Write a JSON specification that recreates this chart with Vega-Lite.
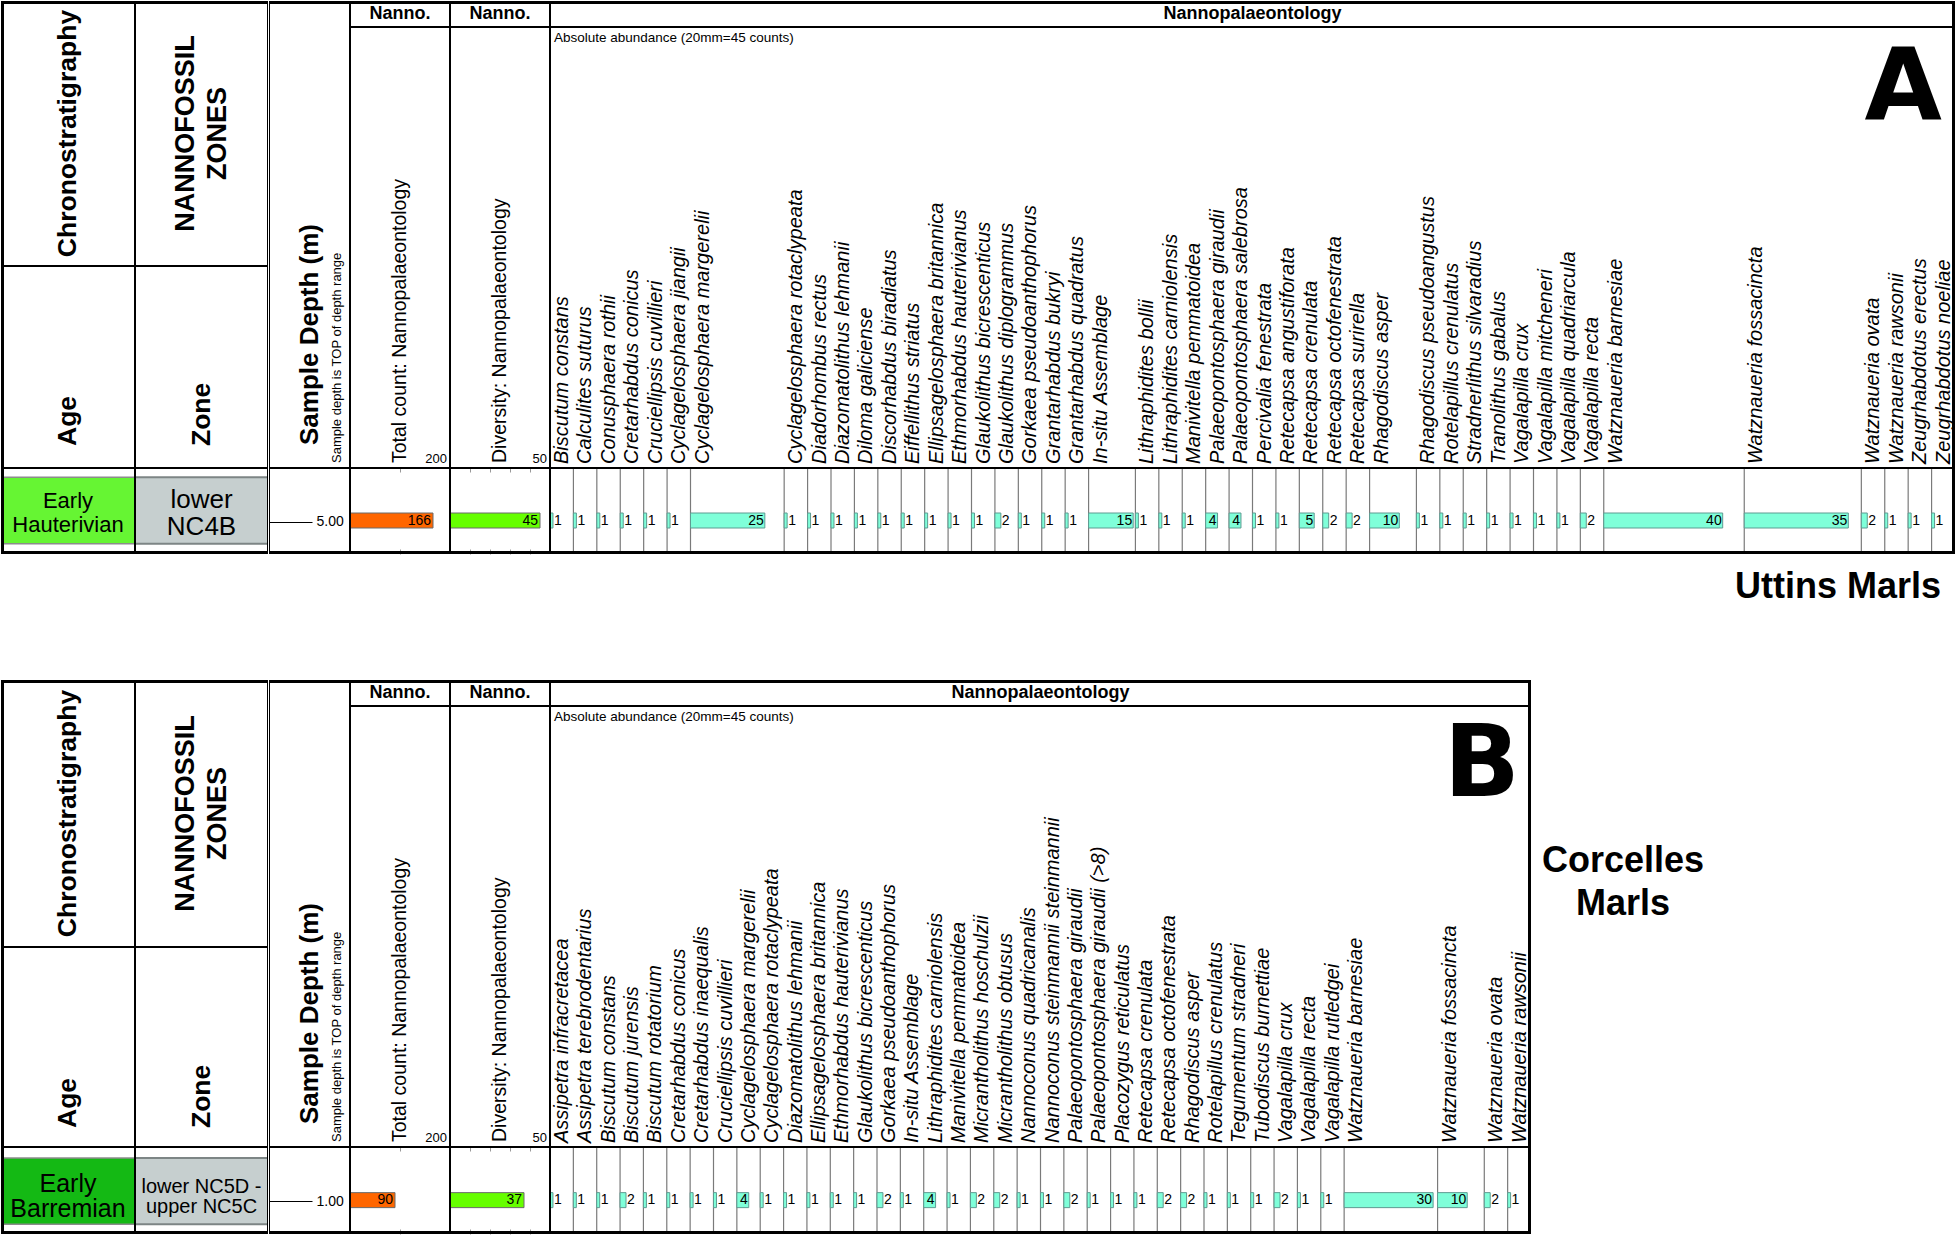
{
  "$schema": "https://vega.github.io/schema/vega-lite/v6.json",
  "background": "white",
  "padding": {"left": 1, "top": 1, "right": 3, "bottom": 3},
  "config": {
    "font": "Liberation Sans",
    "view": {"stroke": null},
    "axis": {"grid": false, "domain": false}
  },
  "datasets": {
    "one": [{}],
    "sumA": [{"depth": 5, "total": 166, "diversity": 45, "age": "Early\nHauterivian", "zone": "lower\nNC4B", "top": 4.17, "base": 5.41}],
    "sumB": [{"depth": 1, "total": 90, "diversity": 37, "age": "Early\nBarremian", "zone": "lower NC5D -\nupper NC5C", "top": 0.2, "base": 1.42}],
    "spA": [
      {"depth": 5, "species": "Biscutum constans", "count": 1},
      {"depth": 5, "species": "Calculites suturus", "count": 1},
      {"depth": 5, "species": "Conusphaera rothii", "count": 1},
      {"depth": 5, "species": "Cretarhabdus conicus", "count": 1},
      {"depth": 5, "species": "Cruciellipsis cuvillieri", "count": 1},
      {"depth": 5, "species": "Cyclagelosphaera jiangii", "count": 1},
      {"depth": 5, "species": "Cyclagelosphaera margerelii", "count": 25},
      {"depth": 5, "species": "Cyclagelosphaera rotaclypeata", "count": 1},
      {"depth": 5, "species": "Diadorhombus rectus", "count": 1},
      {"depth": 5, "species": "Diazomatolithus lehmanii", "count": 1},
      {"depth": 5, "species": "Diloma galiciense", "count": 1},
      {"depth": 5, "species": "Discorhabdus biradiatus", "count": 1},
      {"depth": 5, "species": "Eiffellithus striatus", "count": 1},
      {"depth": 5, "species": "Ellipsagelosphaera britannica", "count": 1},
      {"depth": 5, "species": "Ethmorhabdus hauterivianus", "count": 1},
      {"depth": 5, "species": "Glaukolithus bicrescenticus", "count": 1},
      {"depth": 5, "species": "Glaukolithus diplogrammus", "count": 2},
      {"depth": 5, "species": "Gorkaea pseudoanthophorus", "count": 1},
      {"depth": 5, "species": "Grantarhabdus bukryi", "count": 1},
      {"depth": 5, "species": "Grantarhabdus quadratus", "count": 1},
      {"depth": 5, "species": "In-situ Assemblage", "count": 15},
      {"depth": 5, "species": "Lithraphidites bollii", "count": 1},
      {"depth": 5, "species": "Lithraphidites carniolensis", "count": 1},
      {"depth": 5, "species": "Manivitella pemmatoidea", "count": 1},
      {"depth": 5, "species": "Palaeopontosphaera giraudii", "count": 4},
      {"depth": 5, "species": "Palaeopontosphaera salebrosa", "count": 4},
      {"depth": 5, "species": "Percivalia fenestrata", "count": 1},
      {"depth": 5, "species": "Retecapsa angustiforata", "count": 1},
      {"depth": 5, "species": "Retecapsa crenulata", "count": 5},
      {"depth": 5, "species": "Retecapsa octofenestrata", "count": 2},
      {"depth": 5, "species": "Retecapsa surirella", "count": 2},
      {"depth": 5, "species": "Rhagodiscus asper", "count": 10},
      {"depth": 5, "species": "Rhagodiscus pseudoangustus", "count": 1},
      {"depth": 5, "species": "Rotelapillus crenulatus", "count": 1},
      {"depth": 5, "species": "Stradnerlithus silvaradius", "count": 1},
      {"depth": 5, "species": "Tranolithus gabalus", "count": 1},
      {"depth": 5, "species": "Vagalapilla crux", "count": 1},
      {"depth": 5, "species": "Vagalapilla mitcheneri", "count": 1},
      {"depth": 5, "species": "Vagalapilla quadriarcula", "count": 1},
      {"depth": 5, "species": "Vagalapilla recta", "count": 2},
      {"depth": 5, "species": "Watznaueria barnesiae", "count": 40},
      {"depth": 5, "species": "Watznaueria fossacincta", "count": 35},
      {"depth": 5, "species": "Watznaueria ovata", "count": 2},
      {"depth": 5, "species": "Watznaueria rawsonii", "count": 1},
      {"depth": 5, "species": "Zeugrhabdotus erectus", "count": 1},
      {"depth": 5, "species": "Zeugrhabdotus noeliae", "count": 1}
    ],
    "spB": [
      {"depth": 1, "species": "Assipetra infracretacea", "count": 1},
      {"depth": 1, "species": "Assipetra terebrodentarius", "count": 1},
      {"depth": 1, "species": "Biscutum constans", "count": 1},
      {"depth": 1, "species": "Biscutum jurensis", "count": 2},
      {"depth": 1, "species": "Biscutum rotatorium", "count": 1},
      {"depth": 1, "species": "Cretarhabdus conicus", "count": 1},
      {"depth": 1, "species": "Cretarhabdus inaequalis", "count": 1},
      {"depth": 1, "species": "Cruciellipsis cuvillieri", "count": 1},
      {"depth": 1, "species": "Cyclagelosphaera margerelii", "count": 4},
      {"depth": 1, "species": "Cyclagelosphaera rotaclypeata", "count": 1},
      {"depth": 1, "species": "Diazomatolithus lehmanii", "count": 1},
      {"depth": 1, "species": "Ellipsagelosphaera britannica", "count": 1},
      {"depth": 1, "species": "Ethmorhabdus hauterivianus", "count": 1},
      {"depth": 1, "species": "Glaukolithus bicrescenticus", "count": 1},
      {"depth": 1, "species": "Gorkaea pseudoanthophorus", "count": 2},
      {"depth": 1, "species": "In-situ Assemblage", "count": 1},
      {"depth": 1, "species": "Lithraphidites carniolensis", "count": 4},
      {"depth": 1, "species": "Manivitella pemmatoidea", "count": 1},
      {"depth": 1, "species": "Micrantholithus hoschulzii", "count": 2},
      {"depth": 1, "species": "Micrantholithus obtusus", "count": 2},
      {"depth": 1, "species": "Nannoconus quadricanalis", "count": 1},
      {"depth": 1, "species": "Nannoconus steinmannii steinmannii", "count": 1},
      {"depth": 1, "species": "Palaeopontosphaera giraudii", "count": 2},
      {"depth": 1, "species": "Palaeopontosphaera giraudii (>8)", "count": 1},
      {"depth": 1, "species": "Placozygus reticulatus", "count": 1},
      {"depth": 1, "species": "Retecapsa crenulata", "count": 1},
      {"depth": 1, "species": "Retecapsa octofenestrata", "count": 2},
      {"depth": 1, "species": "Rhagodiscus asper", "count": 2},
      {"depth": 1, "species": "Rotelapillus crenulatus", "count": 1},
      {"depth": 1, "species": "Tegumentum stradneri", "count": 1},
      {"depth": 1, "species": "Tubodiscus burnettiae", "count": 1},
      {"depth": 1, "species": "Vagalapilla crux", "count": 2},
      {"depth": 1, "species": "Vagalapilla recta", "count": 1},
      {"depth": 1, "species": "Vagalapilla rutledgei", "count": 1},
      {"depth": 1, "species": "Watznaueria barnesiae", "count": 30},
      {"depth": 1, "species": "Watznaueria fossacincta", "count": 10},
      {"depth": 1, "species": "Watznaueria ovata", "count": 2},
      {"depth": 1, "species": "Watznaueria rawsonii", "count": 1}
    ]
  },
  "spacing": 0,
  "bounds": "full",
  "vconcat": [
    {
      "spacing": 0,
      "bounds": "full",
      "hconcat": [
        {"spacing": 0, "bounds": "flush", "vconcat": [
          {"width": 134, "height": 265, "layer": [
            {"data": {"name": "one"}, "mark": {"type": "text", "text": "Chronostratigraphy", "angle": 270, "fontSize": 26.5, "fontWeight": "bold", "align": "center", "baseline": "middle"}, "encoding": {}},
            {"data": {"name": "one"}, "mark": {"type": "rect", "filled": false, "color": "black", "strokeWidth": 2, "clip": true}, "encoding": {}},
            {"data": {"name": "one"}, "mark": {"type": "rule", "color": "black", "strokeWidth": 6, "clip": true}, "encoding": {"y": {"value": 0}}},
            {"data": {"name": "one"}, "mark": {"type": "rule", "color": "black", "strokeWidth": 6, "clip": true}, "encoding": {"x": {"value": 0}}}
          ]},
          {"width": 134, "height": 202, "layer": [
            {"data": {"name": "one"}, "mark": {"type": "text", "text": "Age", "angle": 270, "fontSize": 26.5, "fontWeight": "bold", "align": "left", "baseline": "middle", "y": "height", "dx": 22}, "encoding": {}},
            {"data": {"name": "one"}, "mark": {"type": "rect", "filled": false, "color": "black", "strokeWidth": 2, "clip": true}, "encoding": {}},
            {"data": {"name": "one"}, "mark": {"type": "rule", "color": "black", "strokeWidth": 6, "clip": true}, "encoding": {"x": {"value": 0}}}
          ]},
          {"width": 134, "height": 86, "layer": [
            {"data": {"name": "sumA"}, "mark": {"type": "rect", "fill": "#66F533", "clip": true}, "encoding": {"y": {"field": "top", "type": "quantitative", "scale": {"domain": [4, 5.6], "reverse": true, "nice": false, "zero": false}, "axis": null}, "y2": {"field": "base"}}},
            {"data": {"name": "sumA"}, "mark": {"type": "rule", "color": "#8c8c8c", "strokeWidth": 1.5, "clip": true}, "encoding": {"y": {"field": "top", "type": "quantitative", "axis": null}}},
            {"data": {"name": "sumA"}, "mark": {"type": "rule", "color": "#8c8c8c", "strokeWidth": 1.5, "clip": true}, "encoding": {"y": {"field": "base", "type": "quantitative", "axis": null}}},
            {"data": {"name": "sumA"}, "transform": [{"calculate": "(datum.top+datum.base)/2", "as": "mid"}], "mark": {"type": "text", "fontSize": 22, "lineHeight": 23.5, "lineBreak": "\n", "align": "center", "baseline": "middle", "dy": -9}, "encoding": {"y": {"field": "mid", "type": "quantitative", "axis": null}, "text": {"field": "age", "type": "nominal"}}},
            {"data": {"name": "one"}, "mark": {"type": "rect", "filled": false, "color": "black", "strokeWidth": 2, "clip": true}, "encoding": {}},
            {"data": {"name": "one"}, "mark": {"type": "rule", "color": "black", "strokeWidth": 6, "clip": true}, "encoding": {"x": {"value": 0}}},
            {"data": {"name": "one"}, "mark": {"type": "rule", "color": "black", "strokeWidth": 6, "clip": true}, "encoding": {"y": {"value": "height"}}}
          ]}
        ]},
        {"spacing": 0, "bounds": "flush", "vconcat": [
          {"width": 133, "height": 265, "layer": [
            {"data": {"name": "one"}, "mark": {"type": "text", "text": "NANNOFOSSIL\nZONES", "lineBreak": "\n", "lineHeight": 32, "angle": 270, "fontSize": 27, "fontWeight": "bold", "align": "center", "baseline": "middle", "dy": -16}, "encoding": {}},
            {"data": {"name": "one"}, "mark": {"type": "rect", "filled": false, "color": "black", "strokeWidth": 2, "clip": true}, "encoding": {}},
            {"data": {"name": "one"}, "mark": {"type": "rule", "color": "black", "strokeWidth": 6, "clip": true}, "encoding": {"y": {"value": 0}}}
          ]},
          {"width": 133, "height": 202, "layer": [
            {"data": {"name": "one"}, "mark": {"type": "text", "text": "Zone", "angle": 270, "fontSize": 26.5, "fontWeight": "bold", "align": "left", "baseline": "middle", "y": "height", "dx": 22}, "encoding": {}},
            {"data": {"name": "one"}, "mark": {"type": "rect", "filled": false, "color": "black", "strokeWidth": 2, "clip": true}, "encoding": {}}
          ]},
          {"width": 133, "height": 86, "layer": [
            {"data": {"name": "sumA"}, "mark": {"type": "rect", "fill": "#C6CFCF", "clip": true}, "encoding": {"y": {"field": "top", "type": "quantitative", "scale": {"domain": [4, 5.6], "reverse": true, "nice": false, "zero": false}, "axis": null}, "y2": {"field": "base"}}},
            {"data": {"name": "sumA"}, "mark": {"type": "rule", "color": "#7d8585", "strokeWidth": 2, "clip": true}, "encoding": {"y": {"field": "top", "type": "quantitative", "axis": null}}},
            {"data": {"name": "sumA"}, "mark": {"type": "rule", "color": "#7d8585", "strokeWidth": 2, "clip": true}, "encoding": {"y": {"field": "base", "type": "quantitative", "axis": null}}},
            {"data": {"name": "sumA"}, "transform": [{"calculate": "(datum.top+datum.base)/2", "as": "mid"}], "mark": {"type": "text", "fontSize": 26, "lineHeight": 27, "lineBreak": "\n", "align": "center", "baseline": "middle", "dy": -10}, "encoding": {"y": {"field": "mid", "type": "quantitative", "axis": null}, "text": {"field": "zone", "type": "nominal"}}},
            {"data": {"name": "one"}, "mark": {"type": "rect", "filled": false, "color": "black", "strokeWidth": 2, "clip": true}, "encoding": {}},
            {"data": {"name": "one"}, "mark": {"type": "rule", "color": "black", "strokeWidth": 6, "clip": true}, "encoding": {"y": {"value": "height"}}}
          ]}
        ]},
        {"spacing": 0, "bounds": "flush", "vconcat": [
          {"width": 81, "height": 467, "layer": [
            {"data": {"name": "one"}, "mark": {"type": "text", "text": "Sample Depth (m)", "angle": 270, "fontSize": 26, "fontWeight": "bold", "align": "left", "baseline": "middle", "y": "height", "dx": 23}, "encoding": {}},
            {"data": {"name": "one"}, "mark": {"type": "text", "text": "Sample depth is TOP of depth range", "angle": 270, "fontSize": 13, "align": "left", "baseline": "middle", "x": 68, "y": "height", "dx": 5}, "encoding": {}},
            {"data": {"name": "one"}, "mark": {"type": "rect", "filled": false, "color": "black", "strokeWidth": 2, "clip": true}, "encoding": {}},
            {"data": {"name": "one"}, "mark": {"type": "rule", "color": "black", "strokeWidth": 6, "clip": true}, "encoding": {"y": {"value": 0}}}
          ]},
          {"width": 81, "height": 86, "layer": [
            {"data": {"name": "sumA"}, "mark": {"type": "point", "opacity": 0}, "encoding": {"y": {"field": "depth", "type": "quantitative", "scale": {"domain": [4, 5.6], "reverse": true, "nice": false, "zero": false}, "axis": {"orient": "right", "offset": -81, "values": [5], "format": ".2f", "tickSize": 43, "tickColor": "black", "tickWidth": 1, "domain": false, "grid": false, "labelFontSize": 14, "labelColor": "black", "labelPadding": 4, "title": null}}}},
            {"data": {"name": "one"}, "mark": {"type": "rect", "filled": false, "color": "black", "strokeWidth": 2, "clip": true}, "encoding": {}},
            {"data": {"name": "one"}, "mark": {"type": "rule", "color": "black", "strokeWidth": 6, "clip": true}, "encoding": {"y": {"value": "height"}}}
          ]}
        ]},
        {"spacing": 0, "bounds": "flush", "vconcat": [
          {"width": 100, "height": 26, "layer": [
            {"data": {"name": "one"}, "mark": {"type": "text", "text": "Nanno.", "fontSize": 18, "fontWeight": "bold"}, "encoding": {}},
            {"data": {"name": "one"}, "mark": {"type": "rect", "filled": false, "color": "black", "strokeWidth": 2, "clip": true}, "encoding": {}},
            {"data": {"name": "one"}, "mark": {"type": "rule", "color": "black", "strokeWidth": 6, "clip": true}, "encoding": {"y": {"value": 0}}}
          ]},
          {"width": 100, "height": 441, "layer": [
            {"data": {"name": "one"}, "mark": {"type": "text", "text": "Total count: Nannopalaeontology", "angle": 270, "fontSize": 19.5, "align": "left", "baseline": "middle", "y": "height", "dx": 5}, "encoding": {}},
            {"data": {"name": "one"}, "mark": {"type": "text", "text": "200", "fontSize": 13, "align": "right", "baseline": "bottom", "x": "width", "y": "height", "dx": -3, "dy": -2}, "encoding": {}},
            {"data": {"name": "one"}, "mark": {"type": "rect", "filled": false, "color": "black", "strokeWidth": 2, "clip": true}, "encoding": {}}
          ]},
          {"width": 100, "height": 86, "resolve": {"axis": {"x": "independent"}}, "layer": [
            {"data": {"name": "sumA"}, "mark": {"type": "bar", "orient": "horizontal", "size": 15, "fill": "#FF6600", "stroke": "#6b6b6b", "strokeWidth": 1, "clip": true}, "encoding": {"x": {"field": "total", "type": "quantitative", "scale": {"domain": [0, 200], "nice": false}, "axis": {"orient": "bottom", "values": [100], "tickSize": -5, "labels": false, "domain": false, "grid": false, "title": null, "tickColor": "#999"}}, "y": {"field": "depth", "type": "quantitative", "scale": {"domain": [4, 5.6], "reverse": true, "nice": false, "zero": false}, "axis": null}}},
            {"data": {"name": "sumA"}, "mark": {"type": "text", "align": "right", "baseline": "middle", "dx": -2, "fontSize": 14}, "encoding": {"x": {"field": "total", "type": "quantitative", "axis": {"orient": "top", "values": [100], "tickSize": -4, "labels": false, "domain": false, "grid": false, "title": null, "tickColor": "#999"}}, "y": {"field": "depth", "type": "quantitative"}, "text": {"field": "total", "type": "quantitative"}}},
            {"data": {"name": "one"}, "mark": {"type": "rect", "filled": false, "color": "black", "strokeWidth": 2, "clip": true}, "encoding": {}},
            {"data": {"name": "one"}, "mark": {"type": "rule", "color": "black", "strokeWidth": 6, "clip": true}, "encoding": {"y": {"value": "height"}}}
          ]}
        ]},
        {"spacing": 0, "bounds": "flush", "vconcat": [
          {"width": 100, "height": 26, "layer": [
            {"data": {"name": "one"}, "mark": {"type": "text", "text": "Nanno.", "fontSize": 18, "fontWeight": "bold"}, "encoding": {}},
            {"data": {"name": "one"}, "mark": {"type": "rect", "filled": false, "color": "black", "strokeWidth": 2, "clip": true}, "encoding": {}},
            {"data": {"name": "one"}, "mark": {"type": "rule", "color": "black", "strokeWidth": 6, "clip": true}, "encoding": {"y": {"value": 0}}}
          ]},
          {"width": 100, "height": 441, "layer": [
            {"data": {"name": "one"}, "mark": {"type": "text", "text": "Diversity: Nannopalaeontology", "angle": 270, "fontSize": 19.5, "align": "left", "baseline": "middle", "y": "height", "dx": 5}, "encoding": {}},
            {"data": {"name": "one"}, "mark": {"type": "text", "text": "50", "fontSize": 13, "align": "right", "baseline": "bottom", "x": "width", "y": "height", "dx": -3, "dy": -2}, "encoding": {}},
            {"data": {"name": "one"}, "mark": {"type": "rect", "filled": false, "color": "black", "strokeWidth": 2, "clip": true}, "encoding": {}}
          ]},
          {"width": 100, "height": 86, "resolve": {"axis": {"x": "independent"}}, "layer": [
            {"data": {"name": "sumA"}, "mark": {"type": "bar", "orient": "horizontal", "size": 15, "fill": "#66FF00", "stroke": "#6b6b6b", "strokeWidth": 1, "clip": true}, "encoding": {"x": {"field": "diversity", "type": "quantitative", "scale": {"domain": [0, 50], "nice": false}, "axis": {"orient": "bottom", "values": [10, 20, 30, 40], "tickSize": -5, "labels": false, "domain": false, "grid": false, "title": null, "tickColor": "#999"}}, "y": {"field": "depth", "type": "quantitative", "scale": {"domain": [4, 5.6], "reverse": true, "nice": false, "zero": false}, "axis": null}}},
            {"data": {"name": "sumA"}, "mark": {"type": "text", "align": "right", "baseline": "middle", "dx": -2, "fontSize": 14}, "encoding": {"x": {"field": "diversity", "type": "quantitative", "axis": {"orient": "top", "values": [10, 20, 30, 40], "tickSize": -4, "labels": false, "domain": false, "grid": false, "title": null, "tickColor": "#999"}}, "y": {"field": "depth", "type": "quantitative"}, "text": {"field": "diversity", "type": "quantitative"}}},
            {"data": {"name": "one"}, "mark": {"type": "rect", "filled": false, "color": "black", "strokeWidth": 2, "clip": true}, "encoding": {}},
            {"data": {"name": "one"}, "mark": {"type": "rule", "color": "black", "strokeWidth": 6, "clip": true}, "encoding": {"y": {"value": "height"}}}
          ]}
        ]},
        {"spacing": 0, "bounds": "flush", "vconcat": [
          {"width": 1405, "height": 26, "layer": [
            {"data": {"name": "one"}, "mark": {"type": "text", "text": "Nannopalaeontology", "fontSize": 18, "fontWeight": "bold"}, "encoding": {}},
            {"data": {"name": "one"}, "mark": {"type": "rect", "filled": false, "color": "black", "strokeWidth": 2, "clip": true}, "encoding": {}},
            {"data": {"name": "one"}, "mark": {"type": "rule", "color": "black", "strokeWidth": 6, "clip": true}, "encoding": {"y": {"value": 0}}},
            {"data": {"name": "one"}, "mark": {"type": "rule", "color": "black", "strokeWidth": 6, "clip": true}, "encoding": {"x": {"value": "width"}}}
          ]},
          {"width": 1405, "height": 441, "layer": [
            {"data": {"name": "spA"}, "transform": [
              {"calculate": "ceil(datum.count/7.875)*7.875", "as": "colw"},
              {"stack": "colw", "groupby": [], "sort": [{"field": "species", "order": "ascending"}], "as": ["x0", "x1"]}
            ], "mark": {"type": "text", "angle": 270, "align": "left", "baseline": "top", "fontSize": 20, "fontStyle": "italic", "y": "height", "dx": 4, "dy": 2}, "encoding": {"x": {"field": "x0", "type": "quantitative", "scale": {"domain": [0, 472.5], "nice": false, "zero": false}, "axis": null}, "text": {"field": "species", "type": "nominal"}}},
            {"data": {"name": "one"}, "mark": {"type": "text", "text": "Absolute abundance  (20mm=45 counts)", "fontSize": 13.5, "align": "left", "baseline": "alphabetic", "x": 4, "y": 15}, "encoding": {}},
            {"data": {"name": "one"}, "mark": {"type": "text", "text": "A", "font": "DejaVu Sans", "fontSize": 100, "fontWeight": "bold", "align": "right", "baseline": "alphabetic", "x": "width", "y": 92, "dx": -13}, "encoding": {}},
            {"data": {"name": "one"}, "mark": {"type": "rect", "filled": false, "color": "black", "strokeWidth": 2, "clip": true}, "encoding": {}},
            {"data": {"name": "one"}, "mark": {"type": "rule", "color": "black", "strokeWidth": 6, "clip": true}, "encoding": {"x": {"value": "width"}}}
          ]},
          {"width": 1405, "height": 86, "layer": [
            {"data": {"name": "spA"}, "transform": [
              {"calculate": "ceil(datum.count/7.875)*7.875", "as": "colw"},
              {"stack": "colw", "groupby": [], "sort": [{"field": "species", "order": "ascending"}], "as": ["x0", "x1"]},
              {"filter": "datum.x0 > 0"}
            ], "mark": {"type": "rule", "color": "#7a7a7a", "strokeWidth": 1.2, "clip": true}, "encoding": {"x": {"field": "x0", "type": "quantitative", "scale": {"domain": [0, 472.5], "nice": false, "zero": false}, "axis": null}}},
            {"data": {"name": "spA"}, "transform": [
              {"calculate": "ceil(datum.count/7.875)*7.875", "as": "colw"},
              {"stack": "colw", "groupby": [], "sort": [{"field": "species", "order": "ascending"}], "as": ["x0", "x1"]},
              {"calculate": "datum.x0 + datum.count", "as": "xe"}
            ], "layer": [
              {"mark": {"type": "bar", "orient": "horizontal", "size": 15, "fill": "#7FFFD9", "stroke": "#5f9b92", "strokeWidth": 1, "clip": true}, "encoding": {"x": {"field": "x0", "type": "quantitative", "axis": null}, "x2": {"field": "xe"}, "y": {"field": "depth", "type": "quantitative", "scale": {"domain": [4, 5.6], "reverse": true, "nice": false, "zero": false}, "axis": null}}},
              {"transform": [{"filter": "datum.count >= 4"}], "mark": {"type": "text", "align": "right", "baseline": "middle", "dx": -1, "fontSize": 14}, "encoding": {"x": {"field": "xe", "type": "quantitative", "axis": null}, "y": {"field": "depth", "type": "quantitative"}, "text": {"field": "count", "type": "quantitative"}}},
              {"transform": [{"filter": "datum.count < 4"}], "mark": {"type": "text", "align": "left", "baseline": "middle", "dx": 1, "fontSize": 14}, "encoding": {"x": {"field": "xe", "type": "quantitative", "axis": null}, "y": {"field": "depth", "type": "quantitative"}, "text": {"field": "count", "type": "quantitative"}}}
            ]},
            {"data": {"name": "one"}, "mark": {"type": "rect", "filled": false, "color": "black", "strokeWidth": 2, "clip": true}, "encoding": {}},
            {"data": {"name": "one"}, "mark": {"type": "rule", "color": "black", "strokeWidth": 6, "clip": true}, "encoding": {"x": {"value": "width"}}},
            {"data": {"name": "one"}, "mark": {"type": "rule", "color": "black", "strokeWidth": 6, "clip": true}, "encoding": {"y": {"value": "height"}}}
          ]}
        ]}
      ]
    },
    {"width": 1953, "height": 125, "data": {"name": "one"}, "mark": {"type": "text", "text": "Uttins Marls", "fontSize": 36, "fontWeight": "bold", "align": "right", "baseline": "alphabetic", "x": "width", "y": 43, "dx": -13}, "encoding": {}},
    {
      "spacing": 0,
      "bounds": "full",
      "hconcat": [
        {"spacing": 0, "bounds": "flush", "vconcat": [
          {"width": 134, "height": 267, "layer": [
            {"data": {"name": "one"}, "mark": {"type": "text", "text": "Chronostratigraphy", "angle": 270, "fontSize": 26.5, "fontWeight": "bold", "align": "center", "baseline": "middle"}, "encoding": {}},
            {"data": {"name": "one"}, "mark": {"type": "rect", "filled": false, "color": "black", "strokeWidth": 2, "clip": true}, "encoding": {}},
            {"data": {"name": "one"}, "mark": {"type": "rule", "color": "black", "strokeWidth": 6, "clip": true}, "encoding": {"y": {"value": 0}}},
            {"data": {"name": "one"}, "mark": {"type": "rule", "color": "black", "strokeWidth": 6, "clip": true}, "encoding": {"x": {"value": 0}}}
          ]},
          {"width": 134, "height": 200, "layer": [
            {"data": {"name": "one"}, "mark": {"type": "text", "text": "Age", "angle": 270, "fontSize": 26.5, "fontWeight": "bold", "align": "left", "baseline": "middle", "y": "height", "dx": 19}, "encoding": {}},
            {"data": {"name": "one"}, "mark": {"type": "rect", "filled": false, "color": "black", "strokeWidth": 2, "clip": true}, "encoding": {}},
            {"data": {"name": "one"}, "mark": {"type": "rule", "color": "black", "strokeWidth": 6, "clip": true}, "encoding": {"x": {"value": 0}}}
          ]},
          {"width": 134, "height": 87, "layer": [
            {"data": {"name": "sumB"}, "mark": {"type": "rect", "fill": "#14B914", "clip": true}, "encoding": {"y": {"field": "top", "type": "quantitative", "scale": {"domain": [0, 1.6], "reverse": true, "nice": false, "zero": false}, "axis": null}, "y2": {"field": "base"}}},
            {"data": {"name": "sumB"}, "mark": {"type": "rule", "color": "#8c8c8c", "strokeWidth": 1.5, "clip": true}, "encoding": {"y": {"field": "top", "type": "quantitative", "axis": null}}},
            {"data": {"name": "sumB"}, "mark": {"type": "rule", "color": "#8c8c8c", "strokeWidth": 1.5, "clip": true}, "encoding": {"y": {"field": "base", "type": "quantitative", "axis": null}}},
            {"data": {"name": "sumB"}, "transform": [{"calculate": "(datum.top+datum.base)/2", "as": "mid"}], "mark": {"type": "text", "fontSize": 25, "lineHeight": 25, "lineBreak": "\n", "align": "center", "baseline": "middle", "dy": -7}, "encoding": {"y": {"field": "mid", "type": "quantitative", "axis": null}, "text": {"field": "age", "type": "nominal"}}},
            {"data": {"name": "one"}, "mark": {"type": "rect", "filled": false, "color": "black", "strokeWidth": 2, "clip": true}, "encoding": {}},
            {"data": {"name": "one"}, "mark": {"type": "rule", "color": "black", "strokeWidth": 6, "clip": true}, "encoding": {"x": {"value": 0}}},
            {"data": {"name": "one"}, "mark": {"type": "rule", "color": "black", "strokeWidth": 6, "clip": true}, "encoding": {"y": {"value": "height"}}}
          ]}
        ]},
        {"spacing": 0, "bounds": "flush", "vconcat": [
          {"width": 133, "height": 267, "layer": [
            {"data": {"name": "one"}, "mark": {"type": "text", "text": "NANNOFOSSIL\nZONES", "lineBreak": "\n", "lineHeight": 32, "angle": 270, "fontSize": 27, "fontWeight": "bold", "align": "center", "baseline": "middle", "dy": -16}, "encoding": {}},
            {"data": {"name": "one"}, "mark": {"type": "rect", "filled": false, "color": "black", "strokeWidth": 2, "clip": true}, "encoding": {}},
            {"data": {"name": "one"}, "mark": {"type": "rule", "color": "black", "strokeWidth": 6, "clip": true}, "encoding": {"y": {"value": 0}}}
          ]},
          {"width": 133, "height": 200, "layer": [
            {"data": {"name": "one"}, "mark": {"type": "text", "text": "Zone", "angle": 270, "fontSize": 26.5, "fontWeight": "bold", "align": "left", "baseline": "middle", "y": "height", "dx": 19}, "encoding": {}},
            {"data": {"name": "one"}, "mark": {"type": "rect", "filled": false, "color": "black", "strokeWidth": 2, "clip": true}, "encoding": {}}
          ]},
          {"width": 133, "height": 87, "layer": [
            {"data": {"name": "sumB"}, "mark": {"type": "rect", "fill": "#C6CFCF", "clip": true}, "encoding": {"y": {"field": "top", "type": "quantitative", "scale": {"domain": [0, 1.6], "reverse": true, "nice": false, "zero": false}, "axis": null}, "y2": {"field": "base"}}},
            {"data": {"name": "sumB"}, "mark": {"type": "rule", "color": "#7d8585", "strokeWidth": 2, "clip": true}, "encoding": {"y": {"field": "top", "type": "quantitative", "axis": null}}},
            {"data": {"name": "sumB"}, "mark": {"type": "rule", "color": "#7d8585", "strokeWidth": 2, "clip": true}, "encoding": {"y": {"field": "base", "type": "quantitative", "axis": null}}},
            {"data": {"name": "sumB"}, "transform": [{"calculate": "(datum.top+datum.base)/2", "as": "mid"}], "mark": {"type": "text", "fontSize": 20, "lineHeight": 19.5, "lineBreak": "\n", "align": "center", "baseline": "middle", "dy": -4}, "encoding": {"y": {"field": "mid", "type": "quantitative", "axis": null}, "text": {"field": "zone", "type": "nominal"}}},
            {"data": {"name": "one"}, "mark": {"type": "rect", "filled": false, "color": "black", "strokeWidth": 2, "clip": true}, "encoding": {}},
            {"data": {"name": "one"}, "mark": {"type": "rule", "color": "black", "strokeWidth": 6, "clip": true}, "encoding": {"y": {"value": "height"}}}
          ]}
        ]},
        {"spacing": 0, "bounds": "flush", "vconcat": [
          {"width": 81, "height": 467, "layer": [
            {"data": {"name": "one"}, "mark": {"type": "text", "text": "Sample Depth (m)", "angle": 270, "fontSize": 26, "fontWeight": "bold", "align": "left", "baseline": "middle", "y": "height", "dx": 23}, "encoding": {}},
            {"data": {"name": "one"}, "mark": {"type": "text", "text": "Sample depth is TOP of depth range", "angle": 270, "fontSize": 13, "align": "left", "baseline": "middle", "x": 68, "y": "height", "dx": 5}, "encoding": {}},
            {"data": {"name": "one"}, "mark": {"type": "rect", "filled": false, "color": "black", "strokeWidth": 2, "clip": true}, "encoding": {}},
            {"data": {"name": "one"}, "mark": {"type": "rule", "color": "black", "strokeWidth": 6, "clip": true}, "encoding": {"y": {"value": 0}}}
          ]},
          {"width": 81, "height": 87, "layer": [
            {"data": {"name": "sumB"}, "mark": {"type": "point", "opacity": 0}, "encoding": {"y": {"field": "depth", "type": "quantitative", "scale": {"domain": [0, 1.6], "reverse": true, "nice": false, "zero": false}, "axis": {"orient": "right", "offset": -81, "values": [1], "format": ".2f", "tickSize": 43, "tickColor": "black", "tickWidth": 1, "domain": false, "grid": false, "labelFontSize": 14, "labelColor": "black", "labelPadding": 4, "title": null}}}},
            {"data": {"name": "one"}, "mark": {"type": "rect", "filled": false, "color": "black", "strokeWidth": 2, "clip": true}, "encoding": {}},
            {"data": {"name": "one"}, "mark": {"type": "rule", "color": "black", "strokeWidth": 6, "clip": true}, "encoding": {"y": {"value": "height"}}}
          ]}
        ]},
        {"spacing": 0, "bounds": "flush", "vconcat": [
          {"width": 100, "height": 26, "layer": [
            {"data": {"name": "one"}, "mark": {"type": "text", "text": "Nanno.", "fontSize": 18, "fontWeight": "bold"}, "encoding": {}},
            {"data": {"name": "one"}, "mark": {"type": "rect", "filled": false, "color": "black", "strokeWidth": 2, "clip": true}, "encoding": {}},
            {"data": {"name": "one"}, "mark": {"type": "rule", "color": "black", "strokeWidth": 6, "clip": true}, "encoding": {"y": {"value": 0}}}
          ]},
          {"width": 100, "height": 441, "layer": [
            {"data": {"name": "one"}, "mark": {"type": "text", "text": "Total count: Nannopalaeontology", "angle": 270, "fontSize": 19.5, "align": "left", "baseline": "middle", "y": "height", "dx": 5}, "encoding": {}},
            {"data": {"name": "one"}, "mark": {"type": "text", "text": "200", "fontSize": 13, "align": "right", "baseline": "bottom", "x": "width", "y": "height", "dx": -3, "dy": -2}, "encoding": {}},
            {"data": {"name": "one"}, "mark": {"type": "rect", "filled": false, "color": "black", "strokeWidth": 2, "clip": true}, "encoding": {}}
          ]},
          {"width": 100, "height": 87, "resolve": {"axis": {"x": "independent"}}, "layer": [
            {"data": {"name": "sumB"}, "mark": {"type": "bar", "orient": "horizontal", "size": 15, "fill": "#FF6600", "stroke": "#6b6b6b", "strokeWidth": 1, "clip": true}, "encoding": {"x": {"field": "total", "type": "quantitative", "scale": {"domain": [0, 200], "nice": false}, "axis": {"orient": "bottom", "values": [100], "tickSize": -5, "labels": false, "domain": false, "grid": false, "title": null, "tickColor": "#999"}}, "y": {"field": "depth", "type": "quantitative", "scale": {"domain": [0, 1.6], "reverse": true, "nice": false, "zero": false}, "axis": null}}},
            {"data": {"name": "sumB"}, "mark": {"type": "text", "align": "right", "baseline": "middle", "dx": -2, "fontSize": 14}, "encoding": {"x": {"field": "total", "type": "quantitative", "axis": {"orient": "top", "values": [100], "tickSize": -4, "labels": false, "domain": false, "grid": false, "title": null, "tickColor": "#999"}}, "y": {"field": "depth", "type": "quantitative"}, "text": {"field": "total", "type": "quantitative"}}},
            {"data": {"name": "one"}, "mark": {"type": "rect", "filled": false, "color": "black", "strokeWidth": 2, "clip": true}, "encoding": {}},
            {"data": {"name": "one"}, "mark": {"type": "rule", "color": "black", "strokeWidth": 6, "clip": true}, "encoding": {"y": {"value": "height"}}}
          ]}
        ]},
        {"spacing": 0, "bounds": "flush", "vconcat": [
          {"width": 100, "height": 26, "layer": [
            {"data": {"name": "one"}, "mark": {"type": "text", "text": "Nanno.", "fontSize": 18, "fontWeight": "bold"}, "encoding": {}},
            {"data": {"name": "one"}, "mark": {"type": "rect", "filled": false, "color": "black", "strokeWidth": 2, "clip": true}, "encoding": {}},
            {"data": {"name": "one"}, "mark": {"type": "rule", "color": "black", "strokeWidth": 6, "clip": true}, "encoding": {"y": {"value": 0}}}
          ]},
          {"width": 100, "height": 441, "layer": [
            {"data": {"name": "one"}, "mark": {"type": "text", "text": "Diversity: Nannopalaeontology", "angle": 270, "fontSize": 19.5, "align": "left", "baseline": "middle", "y": "height", "dx": 5}, "encoding": {}},
            {"data": {"name": "one"}, "mark": {"type": "text", "text": "50", "fontSize": 13, "align": "right", "baseline": "bottom", "x": "width", "y": "height", "dx": -3, "dy": -2}, "encoding": {}},
            {"data": {"name": "one"}, "mark": {"type": "rect", "filled": false, "color": "black", "strokeWidth": 2, "clip": true}, "encoding": {}}
          ]},
          {"width": 100, "height": 87, "resolve": {"axis": {"x": "independent"}}, "layer": [
            {"data": {"name": "sumB"}, "mark": {"type": "bar", "orient": "horizontal", "size": 15, "fill": "#66FF00", "stroke": "#6b6b6b", "strokeWidth": 1, "clip": true}, "encoding": {"x": {"field": "diversity", "type": "quantitative", "scale": {"domain": [0, 50], "nice": false}, "axis": {"orient": "bottom", "values": [10, 20, 30, 40], "tickSize": -5, "labels": false, "domain": false, "grid": false, "title": null, "tickColor": "#999"}}, "y": {"field": "depth", "type": "quantitative", "scale": {"domain": [0, 1.6], "reverse": true, "nice": false, "zero": false}, "axis": null}}},
            {"data": {"name": "sumB"}, "mark": {"type": "text", "align": "right", "baseline": "middle", "dx": -2, "fontSize": 14}, "encoding": {"x": {"field": "diversity", "type": "quantitative", "axis": {"orient": "top", "values": [10, 20, 30, 40], "tickSize": -4, "labels": false, "domain": false, "grid": false, "title": null, "tickColor": "#999"}}, "y": {"field": "depth", "type": "quantitative"}, "text": {"field": "diversity", "type": "quantitative"}}},
            {"data": {"name": "one"}, "mark": {"type": "rect", "filled": false, "color": "black", "strokeWidth": 2, "clip": true}, "encoding": {}},
            {"data": {"name": "one"}, "mark": {"type": "rule", "color": "black", "strokeWidth": 6, "clip": true}, "encoding": {"y": {"value": "height"}}}
          ]}
        ]},
        {"spacing": 0, "bounds": "flush", "vconcat": [
          {"width": 981, "height": 26, "layer": [
            {"data": {"name": "one"}, "mark": {"type": "text", "text": "Nannopalaeontology", "fontSize": 18, "fontWeight": "bold"}, "encoding": {}},
            {"data": {"name": "one"}, "mark": {"type": "rect", "filled": false, "color": "black", "strokeWidth": 2, "clip": true}, "encoding": {}},
            {"data": {"name": "one"}, "mark": {"type": "rule", "color": "black", "strokeWidth": 6, "clip": true}, "encoding": {"y": {"value": 0}}},
            {"data": {"name": "one"}, "mark": {"type": "rule", "color": "black", "strokeWidth": 6, "clip": true}, "encoding": {"x": {"value": "width"}}}
          ]},
          {"width": 981, "height": 441, "layer": [
            {"data": {"name": "spB"}, "transform": [
              {"calculate": "ceil(datum.count/7.875)*7.875", "as": "colw"},
              {"stack": "colw", "groupby": [], "sort": [{"field": "species", "order": "ascending"}], "as": ["x0", "x1"]}
            ], "mark": {"type": "text", "angle": 270, "align": "left", "baseline": "top", "fontSize": 20, "fontStyle": "italic", "y": "height", "dx": 4, "dy": 2}, "encoding": {"x": {"field": "x0", "type": "quantitative", "scale": {"domain": [0, 330.75], "nice": false, "zero": false}, "axis": null}, "text": {"field": "species", "type": "nominal"}}},
            {"data": {"name": "one"}, "mark": {"type": "text", "text": "Absolute abundance  (20mm=45 counts)", "fontSize": 13.5, "align": "left", "baseline": "alphabetic", "x": 4, "y": 15}, "encoding": {}},
            {"data": {"name": "one"}, "mark": {"type": "text", "text": "B", "font": "DejaVu Sans", "fontSize": 100, "fontWeight": "bold", "align": "right", "baseline": "alphabetic", "x": "width", "y": 90, "dx": -11}, "encoding": {}},
            {"data": {"name": "one"}, "mark": {"type": "rect", "filled": false, "color": "black", "strokeWidth": 2, "clip": true}, "encoding": {}},
            {"data": {"name": "one"}, "mark": {"type": "rule", "color": "black", "strokeWidth": 6, "clip": true}, "encoding": {"x": {"value": "width"}}}
          ]},
          {"width": 981, "height": 87, "layer": [
            {"data": {"name": "spB"}, "transform": [
              {"calculate": "ceil(datum.count/7.875)*7.875", "as": "colw"},
              {"stack": "colw", "groupby": [], "sort": [{"field": "species", "order": "ascending"}], "as": ["x0", "x1"]},
              {"filter": "datum.x0 > 0"}
            ], "mark": {"type": "rule", "color": "#7a7a7a", "strokeWidth": 1.2, "clip": true}, "encoding": {"x": {"field": "x0", "type": "quantitative", "scale": {"domain": [0, 330.75], "nice": false, "zero": false}, "axis": null}}},
            {"data": {"name": "spB"}, "transform": [
              {"calculate": "ceil(datum.count/7.875)*7.875", "as": "colw"},
              {"stack": "colw", "groupby": [], "sort": [{"field": "species", "order": "ascending"}], "as": ["x0", "x1"]},
              {"calculate": "datum.x0 + datum.count", "as": "xe"}
            ], "layer": [
              {"mark": {"type": "bar", "orient": "horizontal", "size": 15, "fill": "#7FFFD9", "stroke": "#5f9b92", "strokeWidth": 1, "clip": true}, "encoding": {"x": {"field": "x0", "type": "quantitative", "axis": null}, "x2": {"field": "xe"}, "y": {"field": "depth", "type": "quantitative", "scale": {"domain": [0, 1.6], "reverse": true, "nice": false, "zero": false}, "axis": null}}},
              {"transform": [{"filter": "datum.count >= 4"}], "mark": {"type": "text", "align": "right", "baseline": "middle", "dx": -1, "fontSize": 14}, "encoding": {"x": {"field": "xe", "type": "quantitative", "axis": null}, "y": {"field": "depth", "type": "quantitative"}, "text": {"field": "count", "type": "quantitative"}}},
              {"transform": [{"filter": "datum.count < 4"}], "mark": {"type": "text", "align": "left", "baseline": "middle", "dx": 1, "fontSize": 14}, "encoding": {"x": {"field": "xe", "type": "quantitative", "axis": null}, "y": {"field": "depth", "type": "quantitative"}, "text": {"field": "count", "type": "quantitative"}}}
            ]},
            {"data": {"name": "one"}, "mark": {"type": "rect", "filled": false, "color": "black", "strokeWidth": 2, "clip": true}, "encoding": {}},
            {"data": {"name": "one"}, "mark": {"type": "rule", "color": "black", "strokeWidth": 6, "clip": true}, "encoding": {"x": {"value": "width"}}},
            {"data": {"name": "one"}, "mark": {"type": "rule", "color": "black", "strokeWidth": 6, "clip": true}, "encoding": {"y": {"value": "height"}}}
          ]}
        ]},
        {"width": 184, "height": 554, "data": {"name": "one"}, "mark": {"type": "text", "text": "Corcelles\nMarls", "lineBreak": "\n", "lineHeight": 43, "fontSize": 36, "fontWeight": "bold", "align": "center", "baseline": "alphabetic", "y": 192}, "encoding": {}}
      ]
    }
  ]
}
